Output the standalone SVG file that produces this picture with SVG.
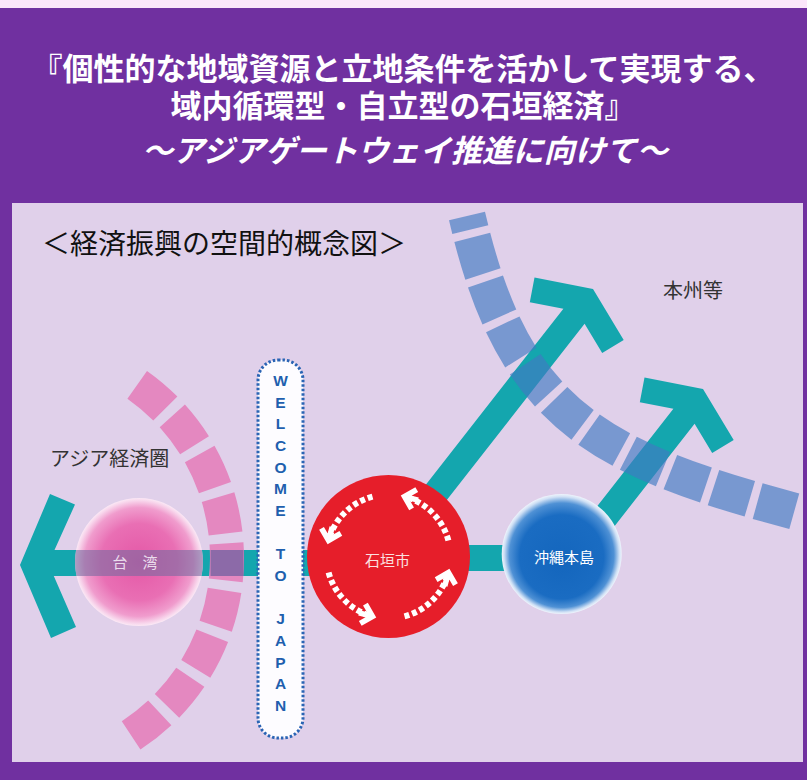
<svg xmlns="http://www.w3.org/2000/svg" width="807" height="780" viewBox="0 0 807 780">
<style>
.jp{font-family:"Liberation Sans","Noto Sans CJK JP","Noto Sans CJK SC",sans-serif}
.title{fill:#ffffff;font-weight:700;font-size:31px;text-anchor:middle}
.lbl{fill:#333333;font-size:20px}
.wl{font-family:"Liberation Sans",Arial,sans-serif;font-weight:700;font-size:15.5px;fill:#1f5fae;text-anchor:middle}
.teal{fill:#14a6ae}
.dots{fill:none;stroke:#ffffff;stroke-width:6;stroke-dasharray:5 3;marker-end:url(#ah)}
.inner{font-size:15px;text-anchor:middle}
</style>
<defs>
<radialGradient id="gTw" cx="0.5" cy="0.5" r="0.5">
<stop offset="0" stop-color="#e457a6"/>
<stop offset="0.6" stop-color="#e96fb4"/>
<stop offset="0.85" stop-color="#f09ccd"/>
<stop offset="0.96" stop-color="#f8d6ec"/>
<stop offset="1" stop-color="#fbe8f5"/>
</radialGradient>
<radialGradient id="gOk" cx="0.5" cy="0.5" r="0.5" fx="0.5" fy="0.58">
<stop offset="0" stop-color="#1466bd"/>
<stop offset="0.7" stop-color="#1a6cc2"/>
<stop offset="0.87" stop-color="#4f91d5"/>
<stop offset="0.96" stop-color="#cfe0f5"/>
<stop offset="1" stop-color="#eef4fc"/>
</radialGradient>
<clipPath id="twClip"><circle cx="139" cy="562" r="64"/></clipPath>
<marker id="ah" viewBox="0 0 32 32" refX="16" refY="16" markerWidth="32" markerHeight="32" markerUnits="userSpaceOnUse" orient="auto">
<path d="M6,6 L16,16 L6,26 M2,16 L16,16" fill="none" stroke="#ffffff" stroke-width="5.5"/>
</marker>
</defs>

<!-- background -->
<rect x="0" y="0" width="807" height="780" fill="#7030a0"/>
<rect x="0" y="0" width="807" height="8" fill="#fbe6fa"/>
<rect x="12" y="203" width="791" height="559" fill="#e0d0ea"/>

<!-- title -->
<g id="title" class="jp">
<text class="title" x="403" y="80">『個性的な地域資源と立地条件を活かして実現する、</text>
<text class="title" x="403" y="117">域内循環型・自立型の石垣経済』</text>
<text class="title" x="405" y="162" font-style="italic">〜アジアゲートウェイ推進に向けて〜</text>
</g>
<text id="subtitle" class="jp" x="42" y="254" font-size="28" fill="#111111">＜経済振興の空間的概念図＞</text>

<!-- connectors -->
<g id="connectors">
<polygon class="teal" points="20,565 50,494 75,504.5 54.5,550 330,550 330,576 53.8,576 76,627 51,638"/>
<rect class="teal" x="440" y="545" width="90" height="26"/>
<polygon class="teal" points="593,289 534.5,277.6 529.8,302.2 563.4,308.7 385.2,536.7 405.6,552.7 584.6,323.7 602.2,353 623.7,340"/>
<polygon class="teal" points="703,389 644.5,377.6 639.8,402.2 673.4,408.7 569.1,542.2 589.5,558.2 694.6,423.7 712.2,453 733.7,440"/>
</g>

<!-- Asia economic zone boundary -->
<g id="asia-arc">
<path d="M137.2,384.8 A212,212 0 0 1 131.1,735.4" fill="none" stroke="#e488c0" stroke-width="34" stroke-dasharray="37 10"/>
<rect x="210.5" y="550" width="33" height="26" fill="#8c6aa8"/>
</g>
<text id="asia-label" class="jp lbl" x="50" y="466">アジア経済圏</text>

<!-- Taiwan -->
<g id="taiwan">
<circle cx="139" cy="562" r="64" fill="url(#gTw)"/>
<rect x="70" y="550" width="140" height="26" fill="#786aa0" opacity="0.6" clip-path="url(#twClip)"/>
<text class="jp inner" x="135" y="568" fill="#eadcec" word-spacing="11" xml:space="preserve">台 湾</text>
</g>

<!-- Welcome to Japan -->
<g id="welcome">
<rect x="258" y="360" width="45" height="378" rx="20" ry="20" fill="#fdfcff" stroke="#2a64b4" stroke-width="3" stroke-dasharray="2.5 2"/>
<text class="wl" x="280.5" y="386">W</text>
<text class="wl" x="280.5" y="408">E</text>
<text class="wl" x="280.5" y="429">L</text>
<text class="wl" x="280.5" y="451">C</text>
<text class="wl" x="280.5" y="473">O</text>
<text class="wl" x="280.5" y="494">M</text>
<text class="wl" x="280.5" y="516">E</text>
<text class="wl" x="280.5" y="559">T</text>
<text class="wl" x="280.5" y="581">O</text>
<text class="wl" x="280.5" y="624">J</text>
<text class="wl" x="280.5" y="646">A</text>
<text class="wl" x="280.5" y="668">P</text>
<text class="wl" x="280.5" y="689">A</text>
<text class="wl" x="280.5" y="711">N</text>
</g>

<!-- Ishigaki -->
<g id="ishigaki">
<circle cx="388.5" cy="556.5" r="81.5" fill="#e61e2a"/>
<path class="dots" d="M448.4,540.5 A62,62 0 0 0 404.5,496.6"/>
<path class="dots" d="M372.5,496.6 A62,62 0 0 0 328.6,540.5"/>
<path class="dots" d="M328.6,572.5 A62,62 0 0 0 372.5,616.4"/>
<path class="dots" d="M404.5,616.4 A62,62 0 0 0 448.4,572.5"/>
<text class="jp inner" x="387.5" y="566" fill="#fbe0e0">石垣市</text>
</g>

<!-- Okinawa -->
<g id="okinawa">
<circle cx="561.7" cy="554" r="60" fill="url(#gOk)"/>
<text class="jp inner" x="564" y="563" fill="#ffffff" font-size="15.5">沖縄本島</text>
</g>

<!-- Japan boundary -->
<g id="japan-arc">
<path d="M467,216 C513,414 596,458 797,512" fill="none" stroke="#407ac2" stroke-opacity="0.65" stroke-width="37" stroke-dasharray="38 8" stroke-dashoffset="24"/>
</g>
<text id="honshu-label" class="jp lbl" x="663" y="298">本州等</text>
</svg>
